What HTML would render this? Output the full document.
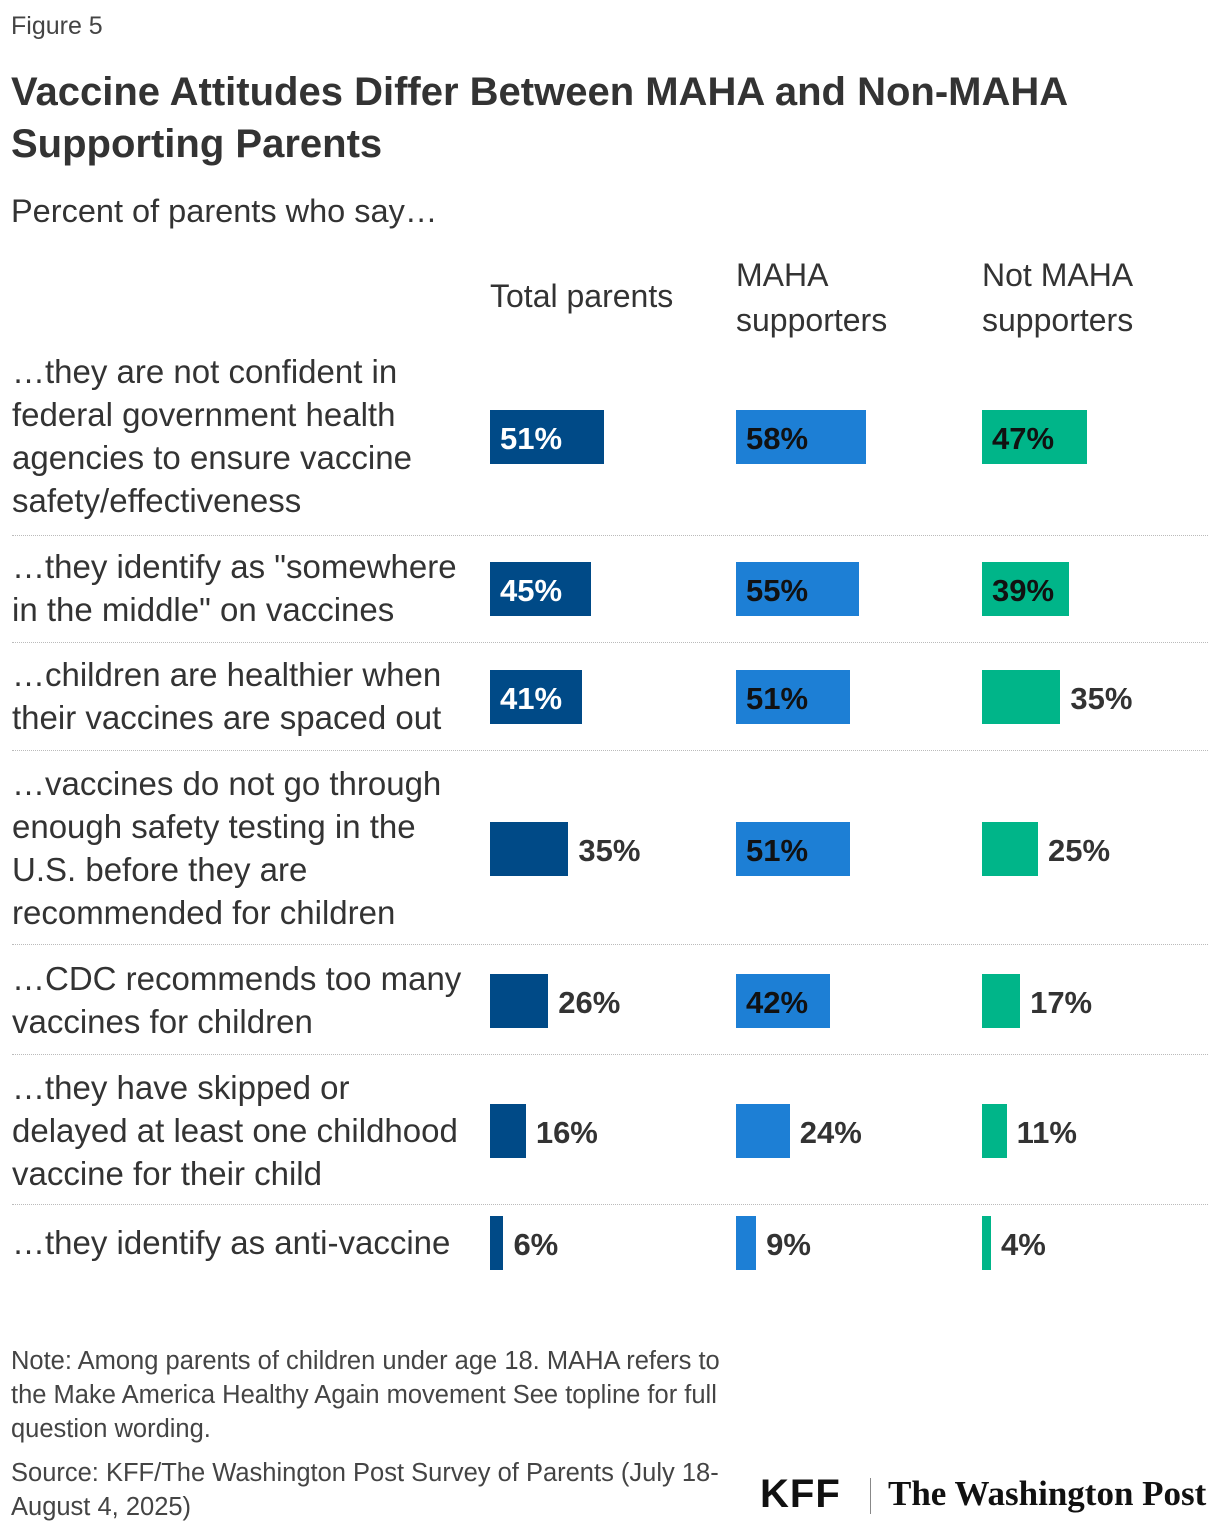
<!DOCTYPE html>
<html><head><meta charset="utf-8"><style>
body{margin:0;width:1220px;height:1534px;background:#fff;font-family:"Liberation Sans",sans-serif;color:#333;position:relative;overflow:hidden}
.a{position:absolute;white-space:nowrap}
</style></head><body>
<div class="a" style="left:11px;top:12px;font-size:25px;color:#444">Figure 5</div>
<div class="a" style="left:11px;top:66px;font-size:40px;font-weight:bold;line-height:52px;color:#333">Vaccine Attitudes Differ Between MAHA and Non-MAHA<br>Supporting Parents</div>
<div class="a" style="left:11px;top:193px;font-size:32.5px;color:#333">Percent of parents who say…</div>
<div class="a" style="left:490px;top:278px;font-size:32px">Total parents</div>
<div class="a" style="left:736px;top:253px;font-size:32px;line-height:45px">MAHA<br>supporters</div>
<div class="a" style="left:982px;top:253px;font-size:32px;line-height:45px">Not MAHA<br>supporters</div>
<div id="chart"></div>
<div class="a" style="left:11px;top:1344px;font-size:25.5px;line-height:34px;color:#444">Note: Among parents of children under age 18. MAHA refers to<br>the Make America Healthy Again movement See topline for full<br>question wording.</div>
<div class="a" style="left:11px;top:1456px;font-size:25.5px;line-height:34px;color:#444">Source: KFF/The Washington Post Survey of Parents (July 18-<br>August 4, 2025)</div>
<div class="a" style="left:760px;top:1472px;font-size:40px;font-weight:bold;color:#111;letter-spacing:1px">KFF</div>
<div class="a" style="left:870px;top:1478px;width:1px;height:36px;background:#888"></div>
<div class="a" style="left:888px;top:1474px;font-size:35px;font-weight:bold;font-family:'Liberation Serif',serif;color:#111">The Washington Post</div>
<script>
const categories=[
["…they are not confident in","federal government health","agencies to ensure vaccine","safety/effectiveness"],
["…they identify as \"somewhere","in the middle\" on vaccines"],
["…children are healthier when","their vaccines are spaced out"],
["…vaccines do not go through","enough safety testing in the","U.S. before they are","recommended for children"],
["…CDC recommends too many","vaccines for children"],
["…they have skipped or","delayed at least one childhood","vaccine for their child"],
["…they identify as anti-vaccine"]];
const totalParents=[51,45,41,35,26,16,6];
const mahaSupporters=[58,55,51,51,42,24,9];
const notMahaSupporters=[47,39,35,25,17,11,4];
const series=[totalParents,mahaSupporters,notMahaSupporters];
const colX=[490,736,982],colors=['#004a87','#1d7fd5','#00b589'],inText=['#fff','#111','#111'];
const centers=[437,589,697,849,1001,1131,1243],seps=[535,642,750,944,1054,1204];
const xs=v=>v*2.24;
const c=document.getElementById('chart');
categories.forEach((lines,i)=>{
 const lab=document.createElement('div');lab.className='a';
 
 
 const lh=43;lab.style.cssText=`left:12px;top:${centers[i]-lines.length*lh/2-1}px;font-size:33px;line-height:${lh}px`;
 lab.innerHTML=lines.join('<br>');c.appendChild(lab);
 series.forEach((s,j)=>{
  const v=s[i],w=xs(v);
  const b=document.createElement('div');b.className='a';
  
  
  b.style.cssText=`left:${colX[j]}px;top:${centers[i]-27}px;width:${w}px;height:54px;background:${colors[j]}`;
  c.appendChild(b);
  const t=document.createElement('div');t.className='a';
  
  
  const inside=v>=37;
  t.style.cssText=`left:${inside?colX[j]+10:colX[j]+w+10}px;top:${centers[i]-17}px;font-size:31px;font-weight:bold;line-height:38px;color:${inside?inText[j]:'#333'}`;
  t.textContent=v+'%';c.appendChild(t);
 });
});
seps.forEach(y=>{const d=document.createElement('div');d.className='a';
 
 
 d.style.cssText=`left:12px;top:${y}px;width:1196px;border-top:1px dotted #bbb`;c.appendChild(d);});
</script>
</body></html>
